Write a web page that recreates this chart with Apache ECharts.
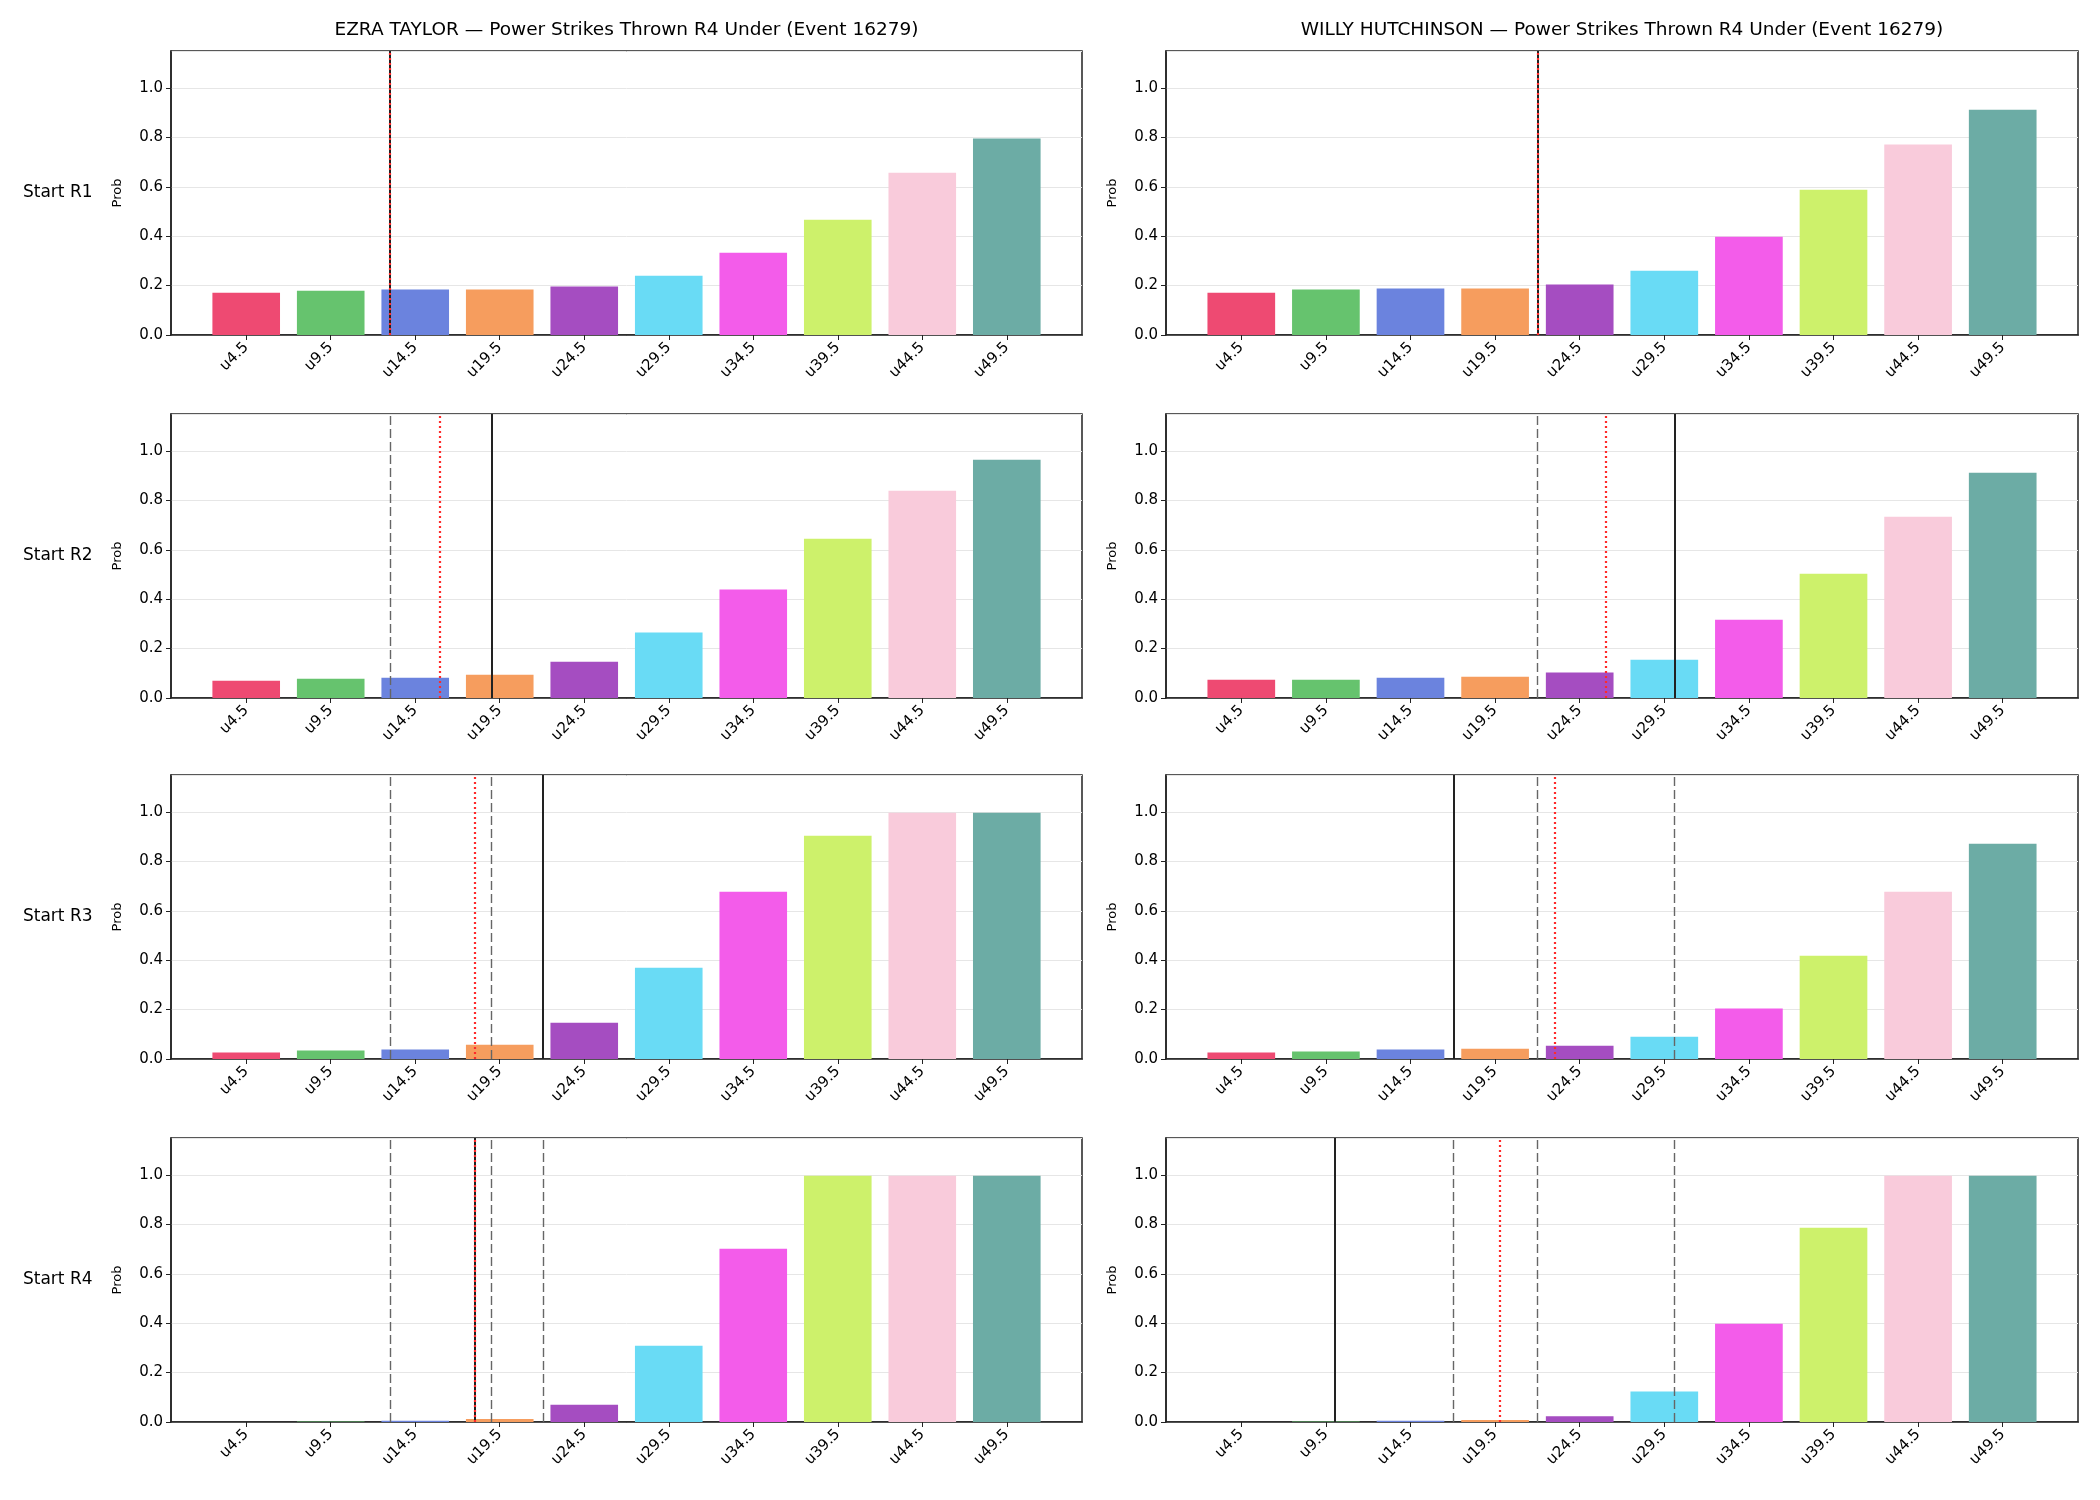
<!DOCTYPE html>
<html>
<head>
<meta charset="utf-8">
<script src="https://cdn.jsdelivr.net/npm/echarts@6/dist/echarts.min.js"></script>
<style>
  html, body { margin: 0; padding: 0; background: #fff; }
  #main { width: 2100px; height: 1500px; }
</style>
</head>
<body>
<div id="main"></div>
<script>
  // categories (bars sit at x = 0..9)
  var categories = ['u4.5', 'u9.5', 'u14.5', 'u19.5', 'u24.5', 'u29.5', 'u34.5', 'u39.5', 'u44.5', 'u49.5'];
  var fighters = ['EZRA TAYLOR', 'WILLY HUTCHINSON'];
  var rounds = ['Start R1', 'Start R2', 'Start R3', 'Start R4'];
  var barColors = ['#EE4A72', '#66C36E', '#6B83DE', '#F69D5E', '#A54DC1', '#69DBF5', '#F35CEA', '#CDF16B', '#F9CBDB', '#6CACA5'];

  // probabilities per round
  var ezraR1 = [0.171, 0.179, 0.184, 0.184, 0.196, 0.240, 0.333, 0.467, 0.657, 0.796];
  var ezraR2 = [0.070, 0.078, 0.082, 0.094, 0.147, 0.265, 0.439, 0.645, 0.839, 0.965];
  var ezraR3 = [0.026, 0.034, 0.038, 0.058, 0.147, 0.370, 0.677, 0.904, 0.997, 0.997];
  var ezraR4 = [0.000, 0.002, 0.005, 0.012, 0.070, 0.309, 0.702, 0.997, 0.997, 0.997];
  var willyR1 = [0.171, 0.184, 0.188, 0.188, 0.204, 0.260, 0.398, 0.588, 0.771, 0.912];
  var willyR2 = [0.074, 0.074, 0.082, 0.086, 0.103, 0.155, 0.317, 0.503, 0.734, 0.912];
  var willyR3 = [0.026, 0.030, 0.038, 0.042, 0.054, 0.090, 0.204, 0.418, 0.677, 0.872];
  var willyR4 = [0.000, 0.002, 0.005, 0.008, 0.023, 0.123, 0.398, 0.787, 0.997, 0.997];

  // vertical markers (x position in bar index units)
  var ezraSolid = [1.70, 2.91, 3.51, 2.70];
  var ezraRed = [1.70, 2.29, 2.71, 2.70];
  var ezraDashed = [[], [1.70], [1.70, 2.90], [1.70, 2.90, 3.51]];
  var willySolid = [3.50, 5.12, 2.51, 1.11];
  var willyRed = [3.50, 4.31, 3.71, 3.05];
  var willyDashed = [[], [3.50], [3.50, 5.12], [2.51, 3.50, 5.12]];

  var values = [[ezraR1, ezraR2, ezraR3, ezraR4], [willyR1, willyR2, willyR3, willyR4]];
  var solids = [ezraSolid, willySolid];
  var reds = [ezraRed, willyRed];
  var dashes = [ezraDashed, willyDashed];

  var FONT = 'DejaVu Sans';
  var colLeft = [171, 1166];
  var colWidth = [911, 912];
  var rowTop = [51, 414, 775, 1138];
  var rowH = 284;
  var tickPos = categories.map(function (c, i) { return i; });

  var grids = [], xAxes = [], yAxes = [], series = [], graphics = [];

  for (var c = 0; c < 2; c++) {
    graphics.push({
      type: 'text', x: colLeft[c] + colWidth[c] / 2, y: 30,
      style: {
        text: fighters[c] + ' \u2014 Power Strikes Thrown R4 Under (Event 16279)',
        font: '18.5px "' + FONT + '"', fill: '#000', align: 'center', verticalAlign: 'middle'
      }
    });
    for (var r = 0; r < 4; r++) {
      var k = c * 4 + r;
      grids.push({
        left: colLeft[c], top: rowTop[r], width: colWidth[c], height: rowH,
        show: true, borderColor: '#222', borderWidth: 1.5
      });
      xAxes.push({
        type: 'value', gridIndex: k, min: -0.89, max: 9.89,
        splitLine: { show: false },
        axisLine: { show: true, onZero: false, lineStyle: { color: '#222', width: 1.5 } },
        axisTick: { show: true, customValues: tickPos, length: 5, lineStyle: { color: '#222', width: 1 } },
        axisLabel: {
          customValues: tickPos, rotate: 45, margin: 10,
          fontFamily: FONT, fontSize: 15, color: '#000',
          formatter: function (v) { return categories[Math.round(v)]; }
        }
      });
      yAxes.push({
        type: 'value', gridIndex: k, min: 0, max: 1.15, interval: 0.2,
        name: 'Prob', nameLocation: 'middle', nameGap: 47,
        nameTextStyle: { fontFamily: FONT, fontSize: 13, color: '#000' },
        splitLine: { show: true, lineStyle: { color: '#e6e6e6', width: 1 } },
        axisLine: { show: true, onZero: false, lineStyle: { color: '#222', width: 1.5 } },
        axisTick: { show: true, length: 5, lineStyle: { color: '#222', width: 1 } },
        axisLabel: {
          fontFamily: FONT, fontSize: 15, color: '#000', margin: 8, showMaxLabel: false,
          formatter: function (v) { return v.toFixed(1); }
        }
      });

      var lines = [];
      dashes[c][r].forEach(function (x) {
        lines.push({ xAxis: x, lineStyle: { color: '#666', width: 1.4, type: [9, 4] } });
      });
      lines.push({ xAxis: solids[c][r], lineStyle: { color: '#222', width: 2, type: 'solid' } });
      lines.push({ xAxis: reds[c][r], lineStyle: { color: '#ff2a2a', width: 2.2, type: [2, 3] } });

      series.push({
        type: 'bar', xAxisIndex: k, yAxisIndex: k, barWidth: '80%',
        data: values[c][r].map(function (v, i) {
          return { value: [i, v], itemStyle: { color: barColors[i] } };
        }),
        markLine: {
          silent: true, symbol: ['none', 'none'], label: { show: false },
          emphasis: { disabled: true }, animation: false,
          data: lines
        }
      });
    }
  }

  for (var r2 = 0; r2 < 4; r2++) {
    graphics.push({
      type: 'text', x: 23, y: rowTop[r2] + rowH / 2,
      style: { text: rounds[r2], font: '17px "' + FONT + '"', fill: '#000', verticalAlign: 'middle' }
    });
  }

  var chart = echarts.init(document.getElementById('main'));
  chart.setOption({
    backgroundColor: '#fff',
    animation: false,
    grid: grids,
    xAxis: xAxes,
    yAxis: yAxes,
    series: series,
    graphic: graphics
  });
</script>
</body>
</html>
